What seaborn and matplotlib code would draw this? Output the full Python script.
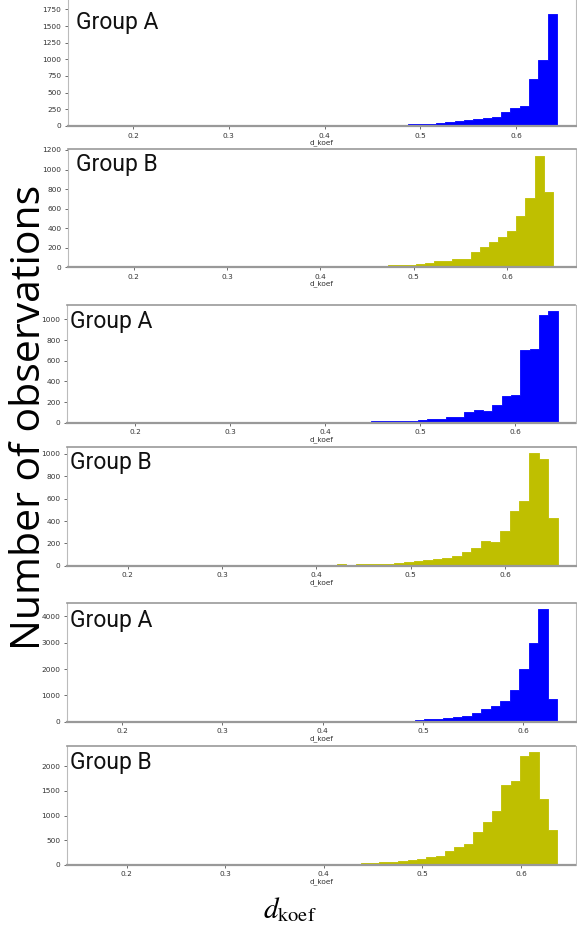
import numpy as np
import pandas as pd
import matplotlib
matplotlib.use("Agg")
import matplotlib.pyplot as plt
import seaborn as sns

# ---------------- data ----------------
groups = ["Group A", "Group B", "Group A", "Group B", "Group A", "Group B"]
colors = ["#0000ff", "#bfbf00", "#0000ff", "#bfbf00", "#0000ff", "#bfbf00"]

# histogram range (first edge, last edge) of 50 bins per panel
bin_ranges = [(0.1576, 0.6426), (0.1590, 0.6490), (0.1548, 0.6448),
              (0.1460, 0.6560), (0.1590, 0.6340), (0.1620, 0.6370)]

counts_1 = [0] * 15 + [10] + [0] * 9 + [8, 8, 8, 8, 3] + \
    [15, 10, 15, 20, 25, 25, 35, 50, 55, 75,
     95, 110, 125, 135, 210, 265, 305, 700, 995, 1675]
counts_2 = [0] * 14 + [5, 5, 0, 5, 5, 5, 0, 0, 5, 5, 6, 8, 8, 0] + \
    [12, 12, 15, 18, 20, 22, 25, 37, 40, 65, 60, 80, 90, 160, 210,
     255, 305, 375, 520, 710, 1140, 770]
counts_3 = [0] * 11 + [5, 0, 0, 0, 5, 5, 0, 5, 0, 0, 0, 0, 5, 0] + \
    [6, 8, 7, 7, 10, 12, 12, 17, 18, 20, 25, 33, 40, 60, 57, 105, 125,
     115, 170, 260, 270, 705, 710, 1040, 1085]
counts_4 = [0] * 13 + [5, 0, 0, 0, 3, 4, 3, 3, 4, 4, 0, 0] + \
    [4, 7, 12, 10, 15, 15, 15, 18, 20, 30, 38, 55, 62, 65, 88, 125, 160,
     220, 215, 315, 490, 580, 1010, 955, 430]
counts_5 = [0] * 26 + \
    [8, 10, 12, 15, 22, 25, 35, 38, 40, 50, 95, 112, 125, 160, 220, 315,
     470, 580, 800, 1195, 2000, 2975, 4300, 865]
counts_6 = [0] * 20 + \
    [5, 10, 10, 12, 12, 18, 20, 0, 20, 25, 32, 45, 55, 70, 90, 125, 160,
     185, 275, 365, 430, 670, 870, 1100, 1630, 1710, 2210, 2300, 1340, 710]
all_counts = [counts_1, counts_2, counts_3, counts_4, counts_5, counts_6]

x_label = "d_koef"
y_label_big = "Number of observations"
x_label_big = r"$d_{\mathrm{koef}}$"

# ---------------- layout (pixels) ----------------
W, H = 577, 926
# (left, top, right, bottom) in pixels
panel_px = [(68, -2, 575.5, 126), (68, 149.5, 575.5, 267.3),
            (67, 305, 575.5, 422.7), (67, 446.7, 575.5, 565.7),
            (67, 603.3, 575.5, 721.7), (67, 745.7, 575.5, 864.7)]
xlims = [(0.1322, 0.662), (0.1298, 0.6732), (0.1283, 0.6637),
         (0.1354, 0.6748), (0.1450, 0.652), (0.1396, 0.6553)]
ylims = [(0, 1920), (0, 1205), (0, 1140), (0, 1065), (0, 4500), (0, 2420)]
label_px = [(76, 10.5), (76, 153), (70, 310), (70, 450.7), (70, 609), (70, 751.3)]

sns.set_style("white")
plt.rcParams["font.family"] = ["DejaVu Sans"]
plt.rcParams["mathtext.fontset"] = "stix"

fig = plt.figure(figsize=(W / 100, H / 100), dpi=100)


def rect(l, t, r, b):
    return [l / W, 1 - b / H, (r - l) / W, (b - t) / H]


for i in range(6):
    ax = fig.add_axes(rect(*panel_px[i]))
    lo, hi = bin_ranges[i]
    edges = [float(e) for e in np.linspace(lo, hi, 51)]
    centers = [(edges[k] + edges[k + 1]) / 2 for k in range(50)]
    df = pd.DataFrame({"x": centers, "n": all_counts[i]})
    sns.histplot(data=df, x="x", weights="n", bins=edges, element="step",
                 fill=True, color=colors[i], alpha=1, linewidth=0.6,
                 ax=ax)
    ax.set_xlim(*xlims[i])
    ax.set_ylim(*ylims[i])
    ax.set_xticks([0.2, 0.3, 0.4, 0.5, 0.6])
    ax.set_xlabel(x_label, fontsize=5.3, color="#333333", labelpad=0.3)
    ax.set_ylabel("")
    ax.tick_params(axis="both", labelsize=5.3, length=2.5, width=0.6,
                   color="#555555", labelcolor="#333333", pad=2.3,
                   bottom=True, left=True)
    for s in ["left", "right", "top"]:
        ax.spines[s].set_color("#bbbbbb")
        ax.spines[s].set_linewidth(0.8)
    ax.spines["top"].set_color("#999999")
    ax.spines["top"].set_linewidth(1.2)
    ax.spines["bottom"].set_color("#999999")
    ax.spines["bottom"].set_linewidth(1.6)
    if i == 0:
        ax.spines["top"].set_visible(False)
    gx, gy = label_px[i]
    fig.text(gx / W, 1 - gy / H, groups[i], fontsize=16.5, family="Roboto",
             ha="left", va="top", color="#111111",
             bbox=dict(facecolor="white", edgecolor="none", pad=0.5))

fig.text(40 / W, 1 - 650 / H, y_label_big, rotation=90, fontsize=29.5,
         family="Open Sans", ha="left", va="baseline", rotation_mode="anchor",
         color="#000000")
fig.text(290 / W, 1 - 910 / H, x_label_big, fontsize=21, ha="center",
         va="center", color="#000000")

fig.savefig("out.png", dpi=100)
